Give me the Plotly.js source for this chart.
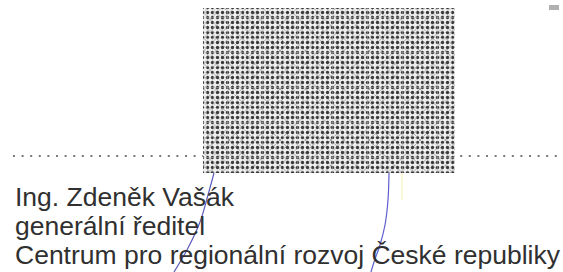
<!DOCTYPE html>
<html><head><meta charset="utf-8">
<script src="https://cdn.plot.ly/plotly-3.0.1.min.js"></script>
<style>html,body{margin:0;padding:0;background:#fff;}#chart{width:563px;height:272px;}</style>
</head><body><div id="chart"></div>
<script>
// signature block content
var textLines = ["Ing. Zdeněk Vašák", "generální ředitel", "Centrum pro regionální rozvoj České republiky"];
var textBaselines = [206, 235, 264];
// anonymized signature stamp (left, right, top, bottom)
var stampX = [203, 455];
var stampY = [8, 173];
// signature strokes
var strokeAX = [214, 208, 200, 188, 174];
var strokeAY = [173, 195, 222, 248, 272];
var strokeBX = [389, 388, 385, 380, 374, 371];
var strokeBY = [173, 200, 225, 245, 262, 272];
var strokeCX = [402, 402];
var strokeCY = [173, 200];
// dotted signature line
var dotLineY = 156;
var dotLineX = [13, 563];

var fontSize = 26.5;
var stampMid = (stampX[0] + stampX[1]) / 2;
var stampW = stampX[1] - stampX[0];
var stampH = stampY[1] - stampY[0];

function stampLayer(color, pattern){
  return {type:'bar', x:[stampMid], y:[stampH], base:[stampY[0]], width:[stampW],
    marker:{color:color, line:{width:0}, pattern:pattern}, hoverinfo:'skip', showlegend:false};
}

var traces = [
  stampLayer('#ececec', {shape:'.', size:5, solidity:0.35, fgcolor:'#3a3a3a', bgcolor:'#ececec'}),
  stampLayer('rgba(0,0,0,0)', {shape:'x', size:9, solidity:0.18, fgcolor:'rgba(70,70,70,0.5)', bgcolor:'rgba(0,0,0,0)'}),
  stampLayer('rgba(0,0,0,0)', {shape:'+', size:7, solidity:0.15, fgcolor:'rgba(255,255,255,0.55)', bgcolor:'rgba(0,0,0,0)'}),
  {type:'scatter', mode:'lines', x:strokeAX, y:strokeAY, line:{color:'#5c5cc0', width:1.2, shape:'spline'}, hoverinfo:'skip', showlegend:false},
  {type:'scatter', mode:'lines', x:strokeBX, y:strokeBY, line:{color:'#5e5ed0', width:1.2, shape:'spline'}, hoverinfo:'skip', showlegend:false},
  {type:'scatter', mode:'lines', x:strokeCX, y:strokeCY, line:{color:'rgba(240,225,120,0.6)', width:1}, hoverinfo:'skip', showlegend:false}
];

var annotations = textLines.map(function(t, i){
  return {text:t, x:13, y:textBaselines[i] - 0.33*fontSize, xref:'x', yref:'y', xanchor:'left', yanchor:'middle',
          showarrow:false, font:{family:'Liberation Sans, Arial, sans-serif', size:fontSize, color:'#303030'}};
});

var shapes = [
  {type:'line', xref:'x', yref:'y', x0:dotLineX[0], x1:dotLineX[1], y0:dotLineY, y1:dotLineY,
   line:{color:'#7a7a7a', width:2, dash:'2px,6.6px'}, layer:'below'},
  {type:'rect', xref:'x', yref:'y', x0:549, x1:559, y0:5, y1:10, fillcolor:'rgba(80,80,80,0.45)', line:{width:0}}
];

var layout = {
  width:563, height:272, margin:{l:0,r:0,t:0,b:0},
  paper_bgcolor:'#ffffff', plot_bgcolor:'#ffffff',
  xaxis:{range:[0,563], visible:false, fixedrange:true},
  yaxis:{range:[272,0], visible:false, fixedrange:true},
  barmode:'overlay', bargap:0,
  annotations:annotations, shapes:shapes, showlegend:false
};
Plotly.newPlot('chart', traces, layout, {displayModeBar:false, staticPlot:true});
</script></body></html>
